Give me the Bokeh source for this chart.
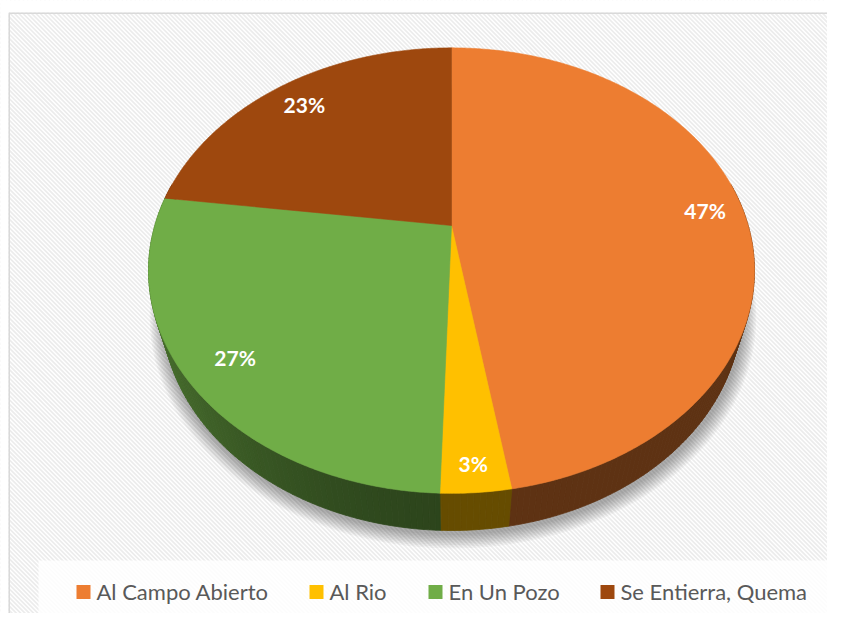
import numpy as np
from bokeh.plotting import figure
from bokeh.models import Range1d, ColumnDataSource
from bokeh.embed import file_html
from bokeh.resources import INLINE
from bokeh.core.properties import value

# ---------------- data ----------------
categories = ["Al Campo Abierto", "Al Rio", "En Un Pozo", "Se Entierra, Quema"]
shares = [47.4, 3.1, 26.6, 22.9]
colors = ["#ED7D31", "#FFC000", "#70AD47", "#9E480E"]

# ---------------- style / layout ----------------
W, H_FIG = 827, 613
CX, CY = 451.0, 225.0       # projected centre of the top face (px)
F = 1017.0                  # focal length
S_EL = 0.72                 # sin(elevation)
C_EL = float(np.sqrt(1 - S_EL ** 2))
DIST = 3.428                # camera distance (radius units)
DEPTH = 0.209               # pie thickness (radius units)
label_r = [0.87, 0.91, 0.85, 0.85]
legend_x = [76, 309, 428, 600]
FONT = "Lato"


def proj(r, th, y=0.0):
    x = r * np.sin(th)
    z = r * np.cos(th)
    yc = y * C_EL + z * S_EL
    zc = -y * S_EL + z * C_EL + DIST
    return CX + F * x / zc, CY - F * yc / zc


def hex2rgb(h):
    h = h.lstrip("#")
    return tuple(int(h[i:i + 2], 16) for i in (0, 2, 4))


def shade(h, k):
    r, g, b = hex2rgb(h)
    return "#%02x%02x%02x" % (int(r * k), int(g * k), int(b * k))


total = float(sum(shares))
bounds = np.concatenate([[0.0], np.cumsum(shares) / total * 2 * np.pi])


def slice_of(th):
    for i in range(len(shares)):
        if bounds[i] <= th < bounds[i + 1]:
            return i
    return len(shares) - 1


p = figure(width=W, height=H_FIG, x_range=Range1d(0, W), y_range=Range1d(H_FIG, 0),
           output_backend="svg", toolbar_location=None, x_axis_type=None, y_axis_type=None,
           min_border=0, outline_line_color=None, background_fill_color="white",
           border_fill_color="white")
p.grid.visible = False

# chart area with diagonal stripes
p.quad(left=[8.75], right=[900], top=[12.5], bottom=[700], fill_color="white",
       line_color=None)
stripe_x, stripe_y = [], []
k0 = -700
while k0 < 900:
    stripe_x.append([k0, k0 + 700])
    stripe_y.append([0, 700])
    k0 += 4.3
p.multi_line(xs=stripe_x, ys=stripe_y, line_color="#ececec", line_width=1.7)
p.quad(left=[-20], right=[8], top=[-20], bottom=[700], fill_color="white", line_color=None)
p.quad(left=[-20], right=[900], top=[-20], bottom=[12], fill_color="white", line_color=None)
p.line(x=[8.75, 8.75, 900], y=[700, 12.75, 12.75], line_color="#d9d9d9", line_width=1.5)

# soft shadow
for k in range(1, 10):
    rr = 1.0 + 0.005 * k
    ths = np.linspace(0, 2 * np.pi, 241)
    xs, ys = proj(rr, ths, -DEPTH)
    p.patch(list(xs + 1.5), list(ys + 3.0), fill_color="black", fill_alpha=0.04, line_color=None)

# side wall (painter's order: far to near)
step = np.deg2rad(1.0)
segs = []
t = np.pi / 2 - 0.2
while t < 3 * np.pi / 2 + 0.2:
    segs.append((t, min(t + step, 3 * np.pi / 2 + 0.2)))
    t += step
segs.sort(key=lambda s: -np.cos((s[0] + s[1]) / 2))
sx, sy, sc = [], [], []
for a, b in segs:
    cuts = [a] + [bb for bb in bounds if a < bb < b] + [b]
    for a2, b2 in zip(cuts[:-1], cuts[1:]):
        m = (a2 + b2) / 2
        i = slice_of(m % (2 * np.pi))
        sn = np.sin(m)
        k = 0.40 + 0.27 * (max(0.0, -sn) ** 1.6)
        x1, y1 = proj(1.0, np.array([a2, b2]), 0.0)
        x2, y2 = proj(1.0, np.array([b2, a2]), -DEPTH)
        sx.append(list(x1) + list(x2))
        sy.append(list(y1) + list(y2))
        sc.append(shade(colors[i], k))
p.patches(xs="xs", ys="ys", fill_color="c", line_color="c", line_width=0.8,
          source=ColumnDataSource(dict(xs=sx, ys=sy, c=sc)))

# top face
tx, ty = [], []
for i in range(len(shares)):
    ths = np.linspace(bounds[i], bounds[i + 1], max(3, int((bounds[i + 1] - bounds[i]) / np.deg2rad(0.5))))
    xs, ys = proj(1.0, ths, 0.0)
    tx.append([CX] + list(xs))
    ty.append([CY] + list(ys))
p.patches(xs="xs", ys="ys", fill_color="c", line_color="c", line_width=0.6,
          source=ColumnDataSource(dict(xs=tx, ys=ty, c=colors)))

# percentage labels
lx, ly, lt = [], [], []
for i in range(len(shares)):
    m = (bounds[i] + bounds[i + 1]) / 2
    x, y = proj(label_r[i], m, 0.0)
    lx.append(float(x))
    ly.append(float(y))
    lt.append("%d%%" % round(shares[i] / total * 100))
p.text(x="x", y="y", text="t", source=ColumnDataSource(dict(x=lx, y=ly, t=lt)),
       text_color="white", text_font=value(FONT), text_font_style="bold",
       text_font_size="21px", text_align="center", text_baseline="middle")

# legend
p.quad(left=[38], right=[900], top=[560], bottom=[622], fill_color="white",
       fill_alpha=0.85, line_color=None)
p.rect(x=[x + 7 for x in legend_x], y=[591.5] * 4, width=14, height=14,
       fill_color=colors, line_color=None)
p.text(x=[x + 20 for x in legend_x], y=[591] * 4, text=categories,
       text_color="#595959", text_font=value(FONT), text_font_size="22px",
       text_align="left", text_baseline="middle")

open("out.html", "w").write(file_html(p, INLINE))
